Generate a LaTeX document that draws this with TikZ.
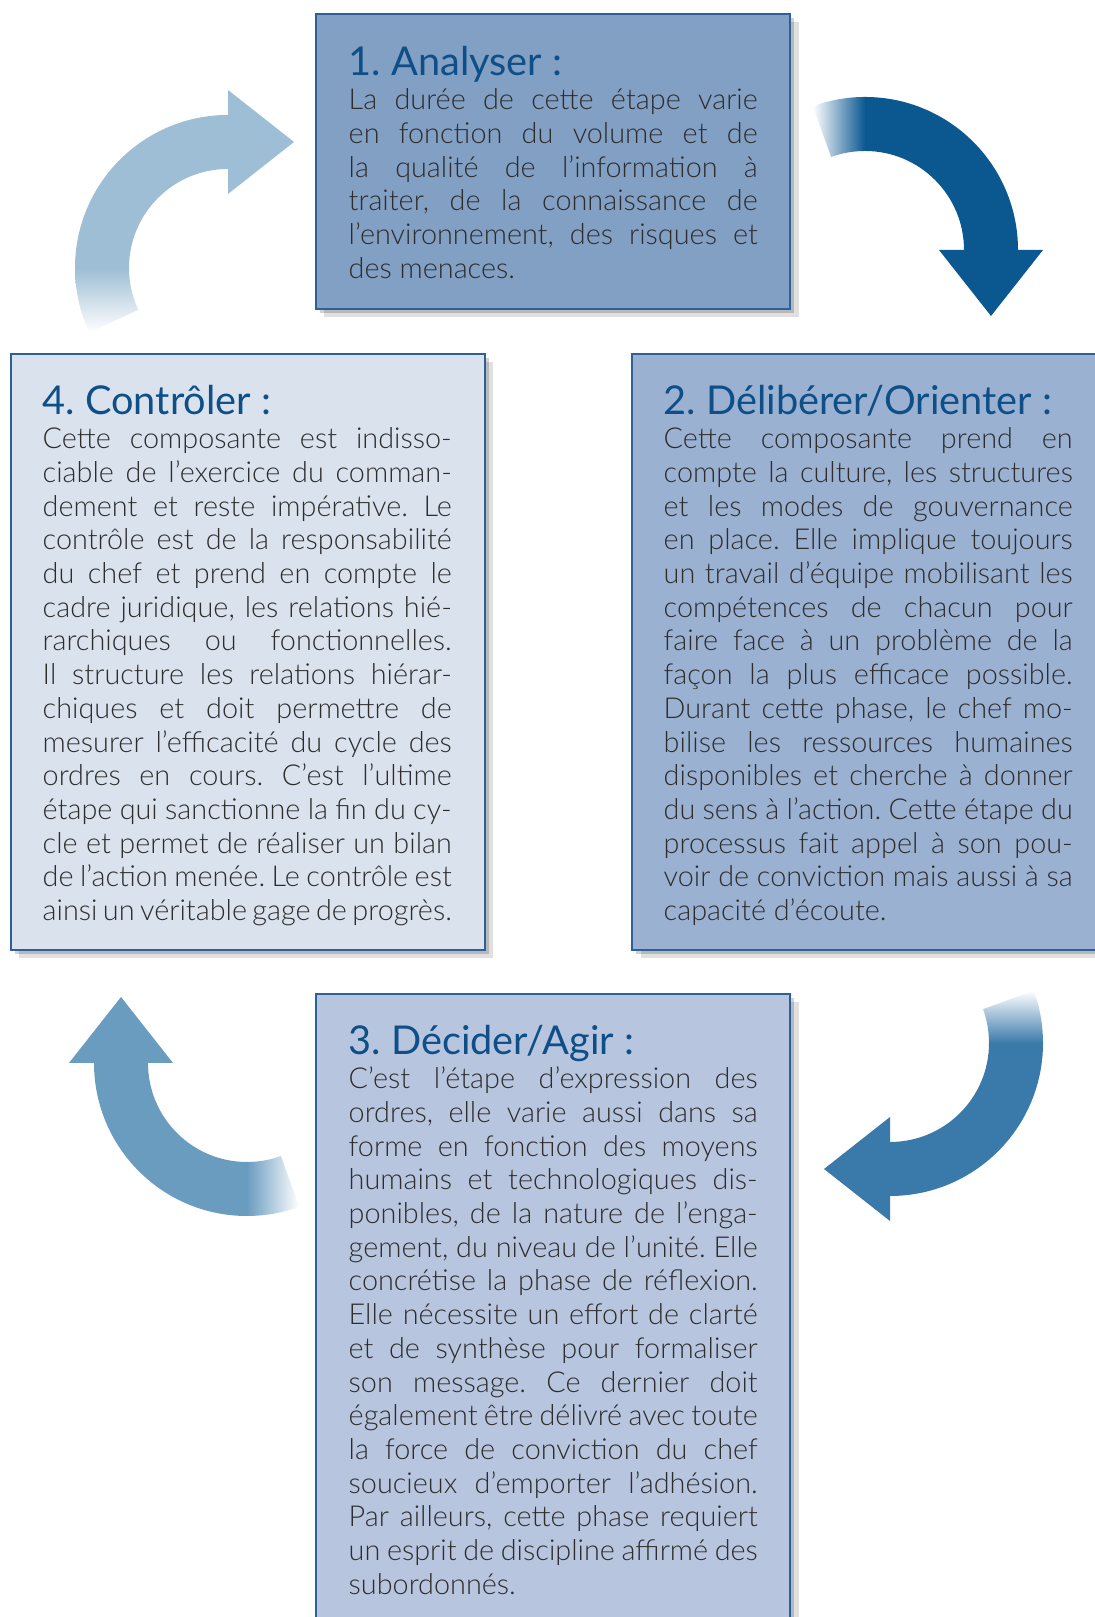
\documentclass[tikz,border=0pt]{standalone}
\usepackage{fontspec}
\setmainfont{Lato Light}
\newfontfamily\titlefont{Lato}
\usepackage{tikz}
\usetikzlibrary{shadows}
\usepackage{xcolor}
\definecolor{titleblue}{RGB}{15, 79, 135}
\definecolor{boxline}{RGB}{43, 96, 152}
\definecolor{bodygray}{RGB}{45, 45, 45}
\definecolor{analysefill}{RGB}{130, 159, 196}
\definecolor{delibfill}{RGB}{155, 177, 210}
\definecolor{deciderfill}{RGB}{184, 197, 223}
\definecolor{controlefill}{RGB}{218, 226, 238}
\definecolor{arrowone}{RGB}{157, 190, 212}
\definecolor{arrowtwo}{RGB}{11, 88, 145}
\definecolor{arrowthree}{RGB}{58, 122, 170}
\definecolor{arrowfour}{RGB}{106, 156, 192}
\tolerance=10000
\hbadness=10000
\hyphenpenalty=10000
\frenchspacing
\newcommand{\steptitle}[1]{\mbox{\titlefont\fontsize{11.3}{12}\selectfont\color{titleblue}#1}\\}

\tikzset{
  stepbox/.style={draw=boxline, line width=0.6pt, anchor=north west, inner sep=0pt,
    minimum width=4.74cm,
    drop shadow={shadow xshift=1.2pt, shadow yshift=-1.2pt, opacity=0.18, fill=black},
    drop shadow={shadow xshift=2.4pt, shadow yshift=-2.4pt, opacity=0.12, fill=black}},
  steptext/.style={anchor=base west, inner sep=0pt, text width=4.09cm, align=justify,
    text=bodygray, font=\fontsize{8.2}{9.59}\selectfont}
}

\begin{document}
\begin{tikzpicture}
    \useasboundingbox (0,0) rectangle (10.95,16.17);

    % the four steps
    \node[stepbox, fill=analysefill, minimum height=2.95cm] (analyse) at (3.15,16.04) {};
    \node[stepbox, fill=controlefill, minimum height=5.96cm] (controle) at (0.10,12.64) {};
    \node[stepbox, fill=delibfill, minimum height=5.96cm, minimum width=4.9cm] (deliberer) at (6.31,12.64) {};
    \node[stepbox, fill=deciderfill, minimum height=6.6cm] (decider) at (3.15,6.24) {};

    \node[steptext] (analysetxt) at ([shift={(0.33,-0.63)}]analyse.north west) {\steptitle{1. Analyser :}La durée de cette étape varie\linebreak en fonction du volume et de\linebreak la qualité de l’information à\linebreak traiter, de la connaissance de\linebreak l’environnement, des risques et\linebreak des menaces.};

    \node[steptext] (controletxt) at ([shift={(0.32,-0.62)}]controle.north west) {\steptitle{4. Contrôler :}Cette composante est indisso-\linebreak ciable de l’exercice du comman-\linebreak dement et reste impérative. Le\linebreak contrôle est de la responsabilité\linebreak du chef et prend en compte le\linebreak cadre juridique, les relations hié-\linebreak rarchiques ou fonctionnelles.\linebreak Il structure les relations hiérar-\linebreak chiques et doit permettre de\linebreak mesurer l’efficacité du cycle des\linebreak ordres en cours. C’est l’ultime\linebreak étape qui sanctionne la fin du cy-\linebreak cle et permet de réaliser un bilan\linebreak de l’action menée. Le contrôle est\linebreak ainsi un véritable gage de progrès.};

    \node[steptext] (deliberertxt) at ([shift={(0.32,-0.62)}]deliberer.north west) {\steptitle{2. Délibérer/Orienter :}Cette composante prend en\linebreak compte la culture, les structures\linebreak et les modes de gouvernance\linebreak en place. Elle implique toujours\linebreak un travail d’équipe mobilisant les\linebreak compétences de chacun pour\linebreak faire face à un problème de la\linebreak façon la plus efficace possible.\linebreak Durant cette phase, le chef mo-\linebreak bilise les ressources humaines\linebreak disponibles et cherche à donner\linebreak du sens à l’action. Cette étape du\linebreak processus fait appel à son pou-\linebreak voir de conviction mais aussi à sa\linebreak capacité d’écoute.};

    \node[steptext] (decidertxt) at ([shift={(0.33,-0.62)}]decider.north west) {\steptitle{3. Décider/Agir :}C’est l’étape d’expression des\linebreak ordres, elle varie aussi dans sa\linebreak forme en fonction des moyens\linebreak humains et technologiques dis-\linebreak ponibles, de la nature de l’enga-\linebreak gement, du niveau de l’unité. Elle\linebreak concrétise la phase de réflexion.\linebreak Elle nécessite un effort de clarté\linebreak et de synthèse pour formaliser\linebreak son message. Ce dernier doit\linebreak également être délivré avec toute\linebreak la force de conviction du chef\linebreak soucieux d’emporter l’adhésion.\linebreak Par ailleurs, cette phase requiert\linebreak un esprit de discipline affirmé des\linebreak subordonnés.};

    % curved arrows of the cycle
    \begin{scope}[shift={(2.28,13.49)}]
        \fill[arrowone] (90:1.53) arc[start angle=90, end angle=180, radius=1.53] -- (180:0.99) arc[start angle=180, end angle=90, radius=0.99] -- cycle;
        \shade[top color=arrowone, bottom color=white] (180:1.53) arc[start angle=180, end angle=205, radius=1.53] -- (205:0.99) arc[start angle=205, end angle=180, radius=0.99] -- cycle;
        \fill[arrowone] (90:0.74) -- (90:1.78) -- (0.66,1.26) -- cycle;
    \end{scope}

    \begin{scope}[shift={(8.65,13.67)}]
        \fill[arrowtwo] (0:1.53) arc[start angle=0, end angle=90, radius=1.53] -- (90:0.99) arc[start angle=90, end angle=0, radius=0.99] -- cycle;
        \shade[left color=white, right color=arrowtwo] (90:1.53) arc[start angle=90, end angle=110, radius=1.53] -- (110:0.99) arc[start angle=110, end angle=90, radius=0.99] -- cycle;
        \fill[arrowtwo] (0:0.74) -- (0:1.78) -- (1.26,-0.66) -- cycle;
    \end{scope}

    \begin{scope}[shift={(8.90,5.74)}]
        \fill[arrowthree] (270:1.53) arc[start angle=270, end angle=360, radius=1.53] -- (0:0.99) arc[start angle=360, end angle=270, radius=0.99] -- cycle;
        \shade[bottom color=arrowthree, top color=white] (0:1.53) arc[start angle=0, end angle=20, radius=1.53] -- (20:0.99) arc[start angle=20, end angle=0, radius=0.99] -- cycle;
        \fill[arrowthree] (270:0.74) -- (270:1.78) -- (-0.66,-1.26) -- cycle;
    \end{scope}

    \begin{scope}[shift={(2.47,5.54)}]
        \fill[arrowfour] (180:1.53) arc[start angle=180, end angle=270, radius=1.53] -- (270:0.99) arc[start angle=270, end angle=180, radius=0.99] -- cycle;
        \shade[left color=arrowfour, right color=white] (270:1.53) arc[start angle=270, end angle=290, radius=1.53] -- (290:0.99) arc[start angle=290, end angle=270, radius=0.99] -- cycle;
        \fill[arrowfour] (180:0.74) -- (180:1.78) -- (-1.26,0.66) -- cycle;
    \end{scope}
\end{tikzpicture}
\end{document}
